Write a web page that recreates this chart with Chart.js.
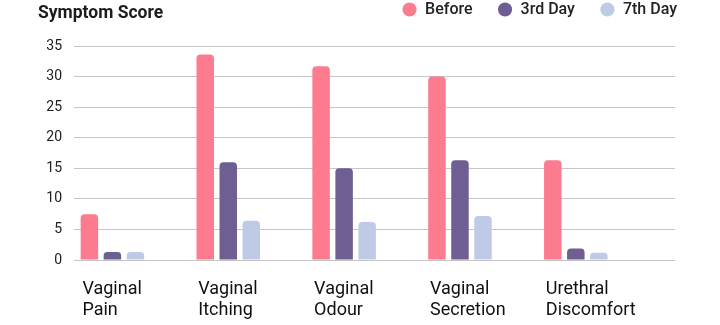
<!DOCTYPE html>
<html>
<head>
<meta charset="utf-8">
<script src="https://cdn.jsdelivr.net/npm/chart.js@4"></script>
<style>
  html, body { margin: 0; padding: 0; background: #ffffff; }
  #wrap { position: relative; width: 720px; height: 325px; }
</style>
</head>
<body>
<div id="wrap"><canvas id="c" width="720" height="325"></canvas></div>
<script>
// ---- data ----
const categories = [
  ['Vaginal', 'Pain'],
  ['Vaginal', 'Itching'],
  ['Vaginal', 'Odour'],
  ['Vaginal', 'Secretion'],
  ['Urethral', 'Discomfort']
];
const seriesNames = ['Before', '3rd Day', '7th Day'];
const before = [7.5, 33.6, 31.7, 30.0, 16.3];
const day3   = [1.3, 16.0, 15.0, 16.3, 1.9];
const day7   = [1.3, 6.4, 6.2, 7.2, 1.2];
const yMin = 0, yMax = 35, yStep = 5;
const chartTitle = 'Symptom Score';

const colors = ['#FD7B8F', '#6F5E91', '#BFCBE6'];
const FONT = 'Roboto, "Liberation Sans", Arial, sans-serif';

const toPoints = arr => arr.map((v, i) => ({ x: i, y: v }));

const titlePlugin = {
  id: 'sideTitle',
  afterDraw(chart) {
    const ctx = chart.ctx;
    ctx.save();
    ctx.font = '700 17.5px ' + FONT;
    ctx.fillStyle = '#1c1c1c';
    ctx.textAlign = 'left';
    ctx.textBaseline = 'alphabetic';
    ctx.fillText(chartTitle, 38, 17.5);
    ctx.restore();
  }
};

const legendPlugin = {
  id: 'legendPlace',
  afterInit(chart) {
    const lg = chart.legend;
    const fit = lg.fit;
    lg.fit = function () { fit.call(this); this.height = 46; };
  },
  afterLayout(chart) {
    const lg = chart.legend;
    lg.top = -23.5;
    lg.bottom = lg.top + lg.height;
    lg.right = 702;
  }
};

new Chart(document.getElementById('c'), {
  type: 'bar',
  data: {
    datasets: [
      { label: seriesNames[0], data: toPoints(before), backgroundColor: colors[0] },
      { label: seriesNames[1], data: toPoints(day3),   backgroundColor: colors[1] },
      { label: seriesNames[2], data: toPoints(day7),   backgroundColor: colors[2] }
    ]
  },
  options: {
    responsive: false,
    animation: false,
    devicePixelRatio: 1,
    layout: { padding: { left: 0, right: 45, top: 0, bottom: 0 } },
    datasets: {
      bar: {
        categoryPercentage: 0.596,
        barPercentage: 0.76,
        borderRadius: 4,
        borderWidth: 0
      }
    },
    plugins: {
      tooltip: { enabled: false },
      legend: {
        position: 'top',
        align: 'end',
        labels: {
          usePointStyle: true,
          pointStyle: 'circle',
          boxWidth: 15,
          boxHeight: 10,
          padding: 25,
          color: '#222222',
          font: { family: FONT, size: 16, weight: '500' }
        }
      }
    },
    scales: {
      x: {
        type: 'linear',
        min: -0.3315,
        max: 4.856,
        offset: false,
        grid: { display: false },
        border: { display: false },
        afterFit(s) { s.height = 65; },
        ticks: {
          stepSize: 1,
          includeBounds: false,
          autoSkip: false,
          maxRotation: 0,
          align: 'start',
          labelOffset: -30,
          padding: 11,
          color: '#111111',
          font: { family: FONT, size: 18, lineHeight: 1.17 },
          callback: v => (Number.isInteger(v) && categories[v]) ? categories[v] : ''
        }
      },
      y: {
        min: yMin,
        max: yMax,
        afterFit(s) { s.width = 74; },
        grid: { color: '#C6C6C6', lineWidth: 1, drawTicks: false },
        border: { display: false },
        ticks: {
          stepSize: yStep,
          padding: 12,
          color: '#1c1c1c',
          font: { family: FONT, size: 14 }
        }
      }
    }
  },
  plugins: [titlePlugin, legendPlugin]
});
</script>
</body>
</html>
